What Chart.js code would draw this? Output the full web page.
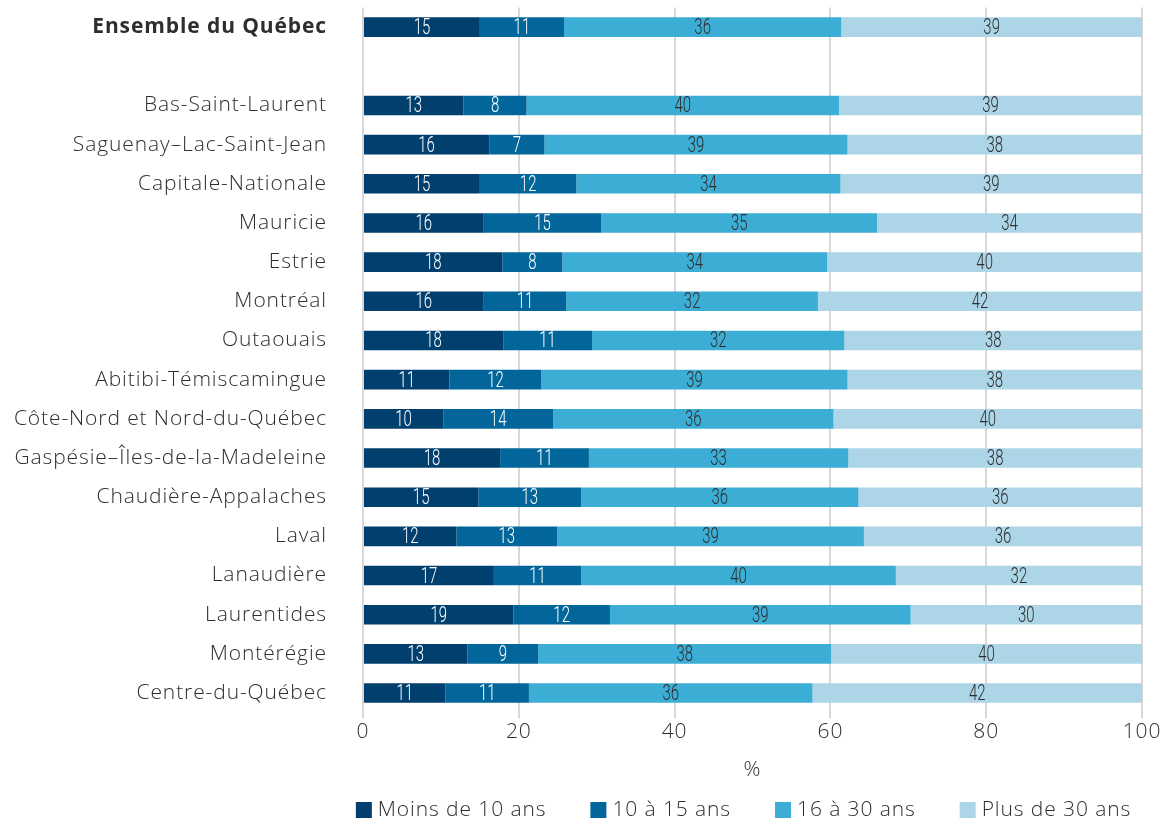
<!DOCTYPE html>
<html lang="fr">
<head>
<meta charset="utf-8">
<title>Répartition selon la durée</title>
<script src="https://cdn.jsdelivr.net/npm/chart.js@4"></script>
<style>
  html, body { margin: 0; padding: 0; background: #ffffff; }
  #wrap { width: 1170px; height: 823px; }
</style>
</head>
<body>
<div id="wrap"><canvas id="regionsChart" width="1170" height="823"></canvas></div>
<script>
// Régions (la ligne vide sépare l'ensemble du Québec des régions)
const regions = [
    'Ensemble du Québec', '',
    'Bas-Saint-Laurent', 'Saguenay–Lac-Saint-Jean', 'Capitale-Nationale', 'Mauricie',
    'Estrie', 'Montréal', 'Outaouais', 'Abitibi-Témiscamingue',
    'Côte-Nord et Nord-du-Québec', 'Gaspésie–Îles-de-la-Madeleine', 'Chaudière-Appalaches',
    'Laval', 'Lanaudière', 'Laurentides', 'Montérégie', 'Centre-du-Québec'
];

// Pourcentages par tranche
const moins10 = [15.0, null, 12.9, 16.2, 15.0, 15.5, 17.9, 15.5, 18.0, 11.1, 10.3, 17.6, 14.8, 12.0, 16.8, 19.3, 13.4, 10.6];
const de10a15 = [10.8, null, 8.1, 7.1, 12.4, 15.1, 7.7, 10.6, 11.4, 11.8, 14.1, 11.4, 13.2, 12.9, 11.2, 12.4, 9.1, 10.7];
const de16a30 = [35.6, null, 40.1, 38.9, 33.9, 35.4, 34.0, 32.3, 32.4, 39.3, 36.0, 33.3, 35.6, 39.4, 40.4, 38.6, 37.6, 36.4];
const plus30  = [38.6, null, 38.9, 37.8, 38.7, 34.0, 40.4, 41.6, 38.2, 37.8, 39.6, 37.7, 36.4, 35.7, 31.6, 29.7, 39.9, 42.3];

const seriesNames = ['Moins de 10 ans', '10 à 15 ans', '16 à 30 ans', 'Plus de 30 ans'];
const xTicks = [0, 20, 40, 60, 80, 100];

const colors = ['#003f6e', '#02669a', '#3caed5', '#acd5e7'];
const labelColors = ['#ffffff', '#ffffff', '#2e2e2e', '#2e2e2e'];
const textColor = '#2e2e2e';
const textFont = '"Open Sans", Roboto, sans-serif';
const tracking = '0.9px';

// Espacement des lettres pour les textes des axes
const wideText = {
    id: 'wideText',
    beforeDraw(chart) { chart.ctx.letterSpacing = tracking; },
    afterDraw(chart) { chart.ctx.letterSpacing = '0px'; }
};

// Valeurs arrondies au centre de chaque segment (chiffres étroits)
const barLabels = {
    id: 'barLabels',
    afterDatasetsDraw(chart) {
        const ctx = chart.ctx;
        chart.data.datasets.forEach((ds, i) => {
            const meta = chart.getDatasetMeta(i);
            meta.data.forEach((bar, j) => {
                const v = ds.data[j];
                if (v == null) return;
                const p = bar.getProps(['x', 'base', 'y'], true);
                ctx.save();
                ctx.letterSpacing = '0px';
                ctx.translate((p.x + p.base) / 2, p.y + 1.5);
                ctx.scale(0.68, 1);
                ctx.font = '300 22px Roboto, sans-serif';
                ctx.textAlign = 'center';
                ctx.textBaseline = 'middle';
                ctx.fillStyle = labelColors[i];
                ctx.fillText(String(Math.round(v)), 0, 0);
                ctx.restore();
            });
        });
    }
};

// Légende sous l'axe, centrée sur la zone des barres
const bottomLegend = {
    id: 'bottomLegend',
    afterDraw(chart) {
        const ctx = chart.ctx;
        const area = chart.chartArea;
        const box = 16, gap = 6, spacing = 44;
        ctx.save();
        ctx.letterSpacing = tracking;
        ctx.font = '300 21px ' + textFont;
        ctx.textBaseline = 'middle';
        const widths = chart.data.datasets.map(ds => box + gap + ctx.measureText(ds.label).width);
        const total = widths.reduce((a, b) => a + b, 0) + spacing * (widths.length - 1);
        let x = (area.left + area.right) / 2 - 9 - total / 2;
        const y = chart.height - 13;
        chart.data.datasets.forEach((ds, i) => {
            ctx.fillStyle = ds.backgroundColor;
            ctx.fillRect(x, y - box / 2, box, box);
            ctx.fillStyle = textColor;
            ctx.fillText(ds.label, x + box + gap, y);
            x += widths[i] + spacing;
        });
        ctx.restore();
    }
};

const seriesData = [moins10, de10a15, de16a30, plus30];

new Chart(document.getElementById('regionsChart').getContext('2d'), {
    type: 'bar',
    data: {
        labels: regions,
        datasets: seriesNames.map((name, i) => ({
            label: name,
            data: seriesData[i],
            backgroundColor: colors[i],
            borderWidth: 0,
            categoryPercentage: 1,
            barPercentage: 0.5
        }))
    },
    options: {
        indexAxis: 'y',
        responsive: false,
        animation: false,
        layout: { padding: { top: 0, right: 28, bottom: 40, left: 0 } },
        plugins: {
            legend: { display: false },
            tooltip: { enabled: false }
        },
        scales: {
            x: {
                stacked: true,
                min: 0,
                max: 100,
                afterBuildTicks: (scale) => { scale.ticks = xTicks.map(v => ({ value: v })); },
                grid: { color: '#d8d8d8', lineWidth: 2, tickLength: 6, drawTicks: true },
                border: { display: false },
                ticks: {
                    color: textColor,
                    padding: 1,
                    font: { family: textFont, size: 21, weight: '300' }
                },
                title: {
                    display: true,
                    text: '%',
                    color: textColor,
                    padding: { top: 12, bottom: 0 },
                    font: { family: textFont, size: 21, weight: '300' }
                }
            },
            y: {
                stacked: true,
                afterFit: (scale) => { scale.width = 363; },
                grid: { display: false, drawTicks: true, tickLength: 36 },
                border: { display: false },
                ticks: {
                    color: textColor,
                    padding: 0,
                    autoSkip: false,
                    font: (c) => c.index === 0
                        ? { family: textFont, size: 21, weight: 'bold', lineHeight: 0.72 }
                        : { family: textFont, size: 21, weight: '300', lineHeight: 0.72 }
                }
            }
        }
    },
    plugins: [wideText, barLabels, bottomLegend]
});
</script>
</body>
</html>
